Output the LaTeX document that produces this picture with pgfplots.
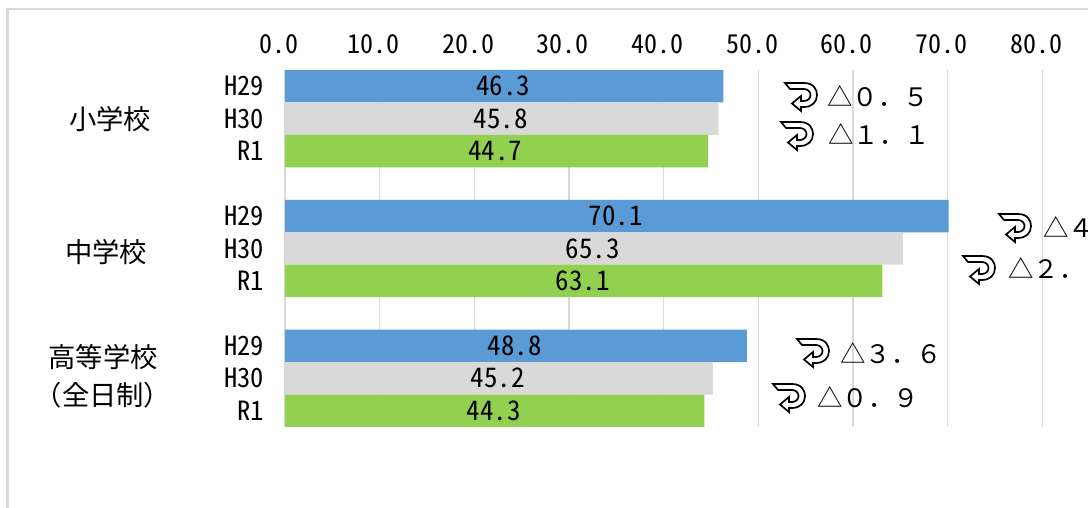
\documentclass[border=0pt]{standalone}
\usepackage{pgfplots}
\pgfplotsset{compat=1.18}
\usepackage{fontspec}
\setmainfont{Noto Sans CJK JP}
\newfontfamily\hw[RawFeature=+hwid]{Noto Sans CJK JP}
\definecolor{cb}{HTML}{5B9BD5}
\definecolor{cg}{HTML}{D9D9D9}
\definecolor{cn}{HTML}{92D050}
\newcommand{\uturn}[2]{% top-left corner of the icon in picture pixels
  \begin{scope}[shift={(#1pt,#2pt)},x=1pt,y=-1pt]
  \draw[black,line width=1.7pt,line join=miter,fill=white]
    (0,0) -- (19,0) .. controls (29,0) and (32,7) .. (32,12)
    .. controls (32,19) and (27,24) .. (19,24) -- (16,24) -- (16,28) -- (7,20.5) -- (16,13) -- (16,18)
    -- (19,18) .. controls (23,18) and (25.5,15) .. (25.5,12)
    .. controls (25.5,9) and (23,6) .. (19,6) -- (5,6) -- cycle;
  \end{scope}}
\newcommand{\chg}[3]{\node[anchor=base west,inner sep=0pt,font=\fontsize{25.4}{26}\selectfont] at (#1pt,#2pt) {#3};}
\begin{document}
\begin{tikzpicture}[x=1pt,y=1pt]
\clip (0,0) rectangle (1088,508);
\useasboundingbox (0,0) rectangle (1088,508);
\draw[cg,line width=2.4pt] (7.5,0) -- (7.5,499) -- (1088,499);
\begin{axis}[
  at={(285pt,81pt)},anchor=south west,
  scale only axis,width=833pt,height=357pt,
  xmin=0,xmax=88,ymin=-0.5,ymax=10.5,y dir=reverse,
  xbar,bar width=32.45pt,bar shift=0pt,
  axis line style={draw=none},
  tick style={draw=none},
  xtick={0,10,20,30,40,50,60,70,80},
  ytick={0,1,2,4,5,6,8,9,10},
  yticklabels={H29,H30,R1,H29,H30,R1,H29,H30,R1},
  xticklabel pos=top,
  xmajorgrids,
  major grid style={cg,line width=1.5pt},
  clip=false,
  /pgf/number format/assume math mode=true,
  /pgf/number format/fixed,/pgf/number format/fixed zerofill,/pgf/number format/precision=1,
  x tick label style={font=\hw\fontsize{26}{27}\selectfont,inner sep=0pt,xshift=-6pt},
  xticklabel shift=16pt,
  y tick label style={font=\hw\fontsize{26.5}{27}\selectfont,anchor=east,inner sep=0pt},
  yticklabel shift=16.5pt,
  nodes near coords,
  visualization depends on={rawx \as \rawv},
  every node near coord/.append style={anchor=center,inner sep=0pt,
     font=\hw\fontsize{27}{28}\selectfont,
     /pgf/number format/fixed zerofill,/pgf/number format/precision=1,
     /pgf/number format/assume math mode=true,
     xshift={-4.735pt*\rawv-1pt}},
]
\addplot[xbar,fill=cb,draw=none] coordinates {(46.3,0) (70.1,4) (48.8,8)};
\addplot[xbar,fill=cg,draw=none] coordinates {(45.8,1) (65.3,5) (45.2,9)};
\addplot[xbar,fill=cn,draw=none] coordinates {(44.7,2) (63.1,6) (44.3,10)};
\end{axis}
\begin{scope}[every node/.style={inner sep=0pt,font=\fontsize{27.3}{28}\selectfont}]
\node at (110,389) {小学校};
\node at (106,256) {中学校};
\node at (103,151) {高等学校};
\node at (103,113) {（全日制）};
\end{scope}
\uturn{785}{425}
\uturn{781}{386}
\uturn{999}{294}
\uturn{963}{252}
\uturn{797}{169}
\uturn{773}{124}
\chg{827}{401}{△０．５}
\chg{828}{363}{△１．１}
\chg{1043}{270}{△４．８}
\chg{1008}{229}{△２．２}
\chg{840}{144}{△３．６}
\chg{817}{100}{△０．９}
\end{tikzpicture}
\end{document}
